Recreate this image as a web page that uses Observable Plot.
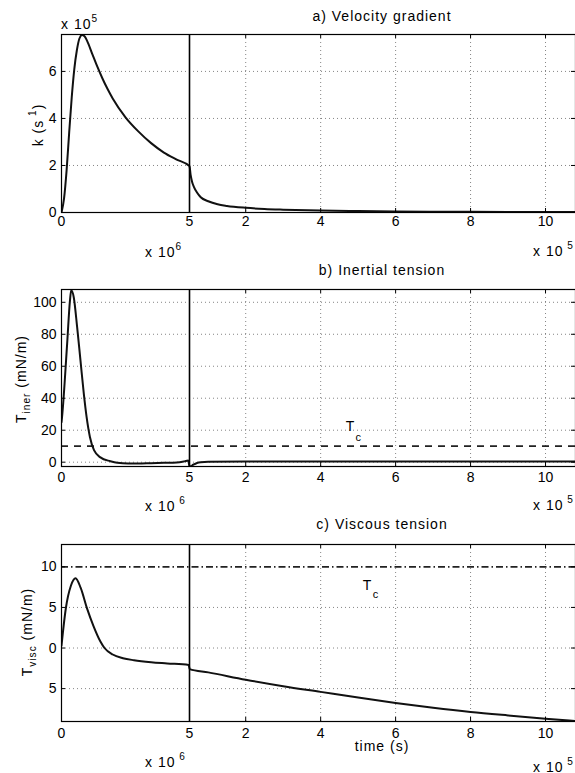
<!DOCTYPE html>
<html>
<head>
<meta charset="utf-8">
<script src="https://cdn.jsdelivr.net/npm/d3@7"></script>
<script src="https://cdn.jsdelivr.net/npm/@observablehq/plot@0.6"></script>
<style>
  body { margin: 0; background: #fff; }
  #chart { position: relative; width: 575px; height: 773px; overflow: hidden; background: #fff;
           font-family: "Liberation Sans", Arial, Helvetica, sans-serif; }
  #chart svg { position: absolute; left: 0; overflow: visible; }
</style>
</head>
<body>
<div id="chart"></div>
<script>
// ---------------- data (time in microseconds) ----------------
// a) velocity gradient k (x 10^5 s^-1)
const timeA = [0, 0.1, 0.2, 0.3, 0.4, 0.5, 0.6, 0.7, 0.8, 0.9, 1.0, 1.2, 1.4, 1.6, 1.8, 2.0, 2.5, 3.0, 3.5, 4.0, 4.5, 5.0,
               5.3, 5.7, 6.2, 7, 8, 10, 12.5, 15, 20, 25, 30, 40, 50, 60, 70, 80, 90, 100, 108];
const kValues = [0, 0.6, 1.8, 3.4, 4.9, 6.1, 6.9, 7.4, 7.55, 7.5, 7.3, 6.75, 6.2, 5.7, 5.25, 4.85, 4.05, 3.45, 2.95, 2.55, 2.25, 1.97,
                 1.6, 1.3, 1.08, 0.85, 0.65, 0.48, 0.35, 0.28, 0.2, 0.15, 0.12, 0.08, 0.06, 0.045, 0.035, 0.03, 0.025, 0.02, 0.018];

// b) inertial tension (mN/m)
const timeB = [0, 0.02, 0.22, 0.33, 0.38, 0.48, 0.61, 0.74, 0.87, 0.98, 1.11, 1.27, 1.52, 1.91, 2.18, 2.6, 3.0, 3.5, 4.0, 4.5, 4.8, 4.95, 5.0,
               5.2, 6, 7, 8, 10, 20, 40, 60, 80, 100, 108];
const inertValues = [25, 28, 74, 101, 107.5, 103, 84.6, 63.8, 43, 28.3, 15.8, 7.5, 3, 0.6, -0.4, -0.8, -0.8, -0.6, -0.4, -0.2, 0.5, 1.0, -2.5,
                     -2.7, -1.6, -0.5, 0, 0.3, 0.4, 0.4, 0.4, 0.4, 0.4, 0.4];

// c) viscous tension (mN/m)
const timeC = [0, 0.17, 0.37, 0.55, 0.75, 1.0, 1.25, 1.52, 1.68, 2.0, 2.4, 2.83, 3.5, 4.13, 4.97,
               5.05, 10, 20, 30, 40, 50, 60, 70, 80, 90, 100, 108];
const viscValues = [0.3, 4.9, 7.7, 8.6, 7.4, 4.85, 2.7, 0.8, 0.0, -0.8, -1.25, -1.5, -1.75, -1.9, -2.1,
                    -2.6, -3.0, -3.9, -4.7, -5.4, -6.1, -6.76, -7.35, -7.87, -8.3, -8.7, -9.0];

// critical tension
const tcValue = 10;

// axes
const xBreak = 5;                       // end of the 0..5 x10^-6 s segment
const xEnd = 108;                       // visible end of the x10^-5 s segment
const xTicks = [0, 5, 20, 40, 60, 80, 100];
const xTickLabels = ["0", "5", "2", "4", "6", "8", "10"];
const xGrid = [5, 20, 40, 60, 80, 100];
const yTicksA = [0, 2, 4, 6];
const yTickLabelsA = ["0", "2", "4", "6"];
const yTicksB = [0, 20, 40, 60, 80, 100];
const yTickLabelsB = ["0", "20", "40", "60", "80", "100"];
const yTicksC = [-5, 0, 5, 10];
const yTickLabelsC = ["5", "0", "5", "10"];

// ---------------- drawing ----------------
const FONT = '"Liberation Sans", Arial, Helvetica, sans-serif';
const W = 575, ML = 61, BREAK_PX = 189;
const innerW = W - ML;
// the second segment is compressed relative to the first one
const ratio = ((W - BREAK_PX) / (xEnd - xBreak)) / ((BREAK_PX - ML) / xBreak);
const warp = t => (t <= xBreak ? t : xBreak + (t - xBreak) * ratio);
const rightCenter = (BREAK_PX + W) / 2;
const container = document.getElementById("chart");

function rich(sel, x, y, parts, {anchor = "start", rotate = 0, size = 14, spacing = 1} = {}) {
  const t = sel.append("text")
    .attr("transform", `translate(${x},${y}) rotate(${rotate})`)
    .attr("text-anchor", anchor)
    .attr("font-family", FONT)
    .attr("font-size", size)
    .attr("letter-spacing", spacing)
    .attr("fill", "black");
  let shift = 0;
  for (const [s, k] of parts) {
    const target = k === "sup" ? -7 : k === "sub" ? 4 : 0;
    const ts = t.append("tspan").attr("dy", target - shift).text(s);
    if (k) ts.attr("font-size", size * 0.72);
    shift = target;
  }
  return t;
}

function panel(cfg) {
  const {top, height, marginTop, marginBottom, yDomain, yTicks, yTickLabels, time, values, threshold, thresholdDash, gridYTicks, tc} = cfg;
  const innerH = height - marginTop - marginBottom;
  const data = time.map((t, i) => ({t, v: values[i]}));
  const tick = 4;
  const marks = [
    Plot.ruleY(gridYTicks, {stroke: "#666", strokeWidth: 0.8, strokeDasharray: "1,3"}),
    Plot.ruleX(xGrid, {stroke: "#666", strokeWidth: 0.8, strokeDasharray: "1,3"}),
  ];
  if (threshold != null) {
    marks.push(Plot.ruleY([threshold], {stroke: "#222", strokeWidth: 1.7, strokeDasharray: thresholdDash}));
  }
  if (tc) {
    marks.push(
      Plot.text([tc], {x: d => d.x, y: d => d.y, text: () => "T", textAnchor: "start", fontSize: 14, fill: "black"}),
      Plot.text([tc], {x: d => d.xs, y: d => d.ys, text: () => "c", textAnchor: "start", fontSize: 11, fill: "black"})
    );
  }
  marks.push(
    Plot.line(data, {x: "t", y: "v", stroke: "#111", strokeWidth: 2, curve: "monotone-x", clip: true}),
    // inside tick marks
    Plot.ruleX(xTicks, {stroke: "black", insetTop: innerH - tick}),
    Plot.ruleX(xTicks, {stroke: "black", insetBottom: innerH - tick}),
    Plot.ruleY(yTicks, {stroke: "black", insetRight: innerW - tick}),
    Plot.ruleY(yTicks, {stroke: "black", insetLeft: innerW - tick}),
    Plot.frame({stroke: "black", strokeWidth: 1.2}),
    Plot.ruleX([xBreak], {stroke: "black", strokeWidth: 1.6}),
    Plot.text(xTicks, {x: d => d, text: (d, i) => xTickLabels[i], frameAnchor: "bottom", lineAnchor: "top", dy: cfg.xLabelDy, fontSize: 14, fill: "black"}),
    Plot.text(yTicks, {y: d => d, text: (d, i) => yTickLabels[i], frameAnchor: "left", textAnchor: "end", dx: -5, fontSize: 14, fill: "black"})
  );
  const svg = Plot.plot({
    width: W, height,
    marginLeft: ML, marginRight: 0, marginTop, marginBottom,
    style: {fontFamily: FONT, fontSize: "14px", background: "transparent", overflow: "visible"},
    x: {domain: [0, warp(xEnd)], transform: warp, axis: null},
    y: {domain: yDomain, axis: null},
    marks
  });
  svg.style.top = top + "px";
  container.appendChild(svg);
  return {svg, sel: d3.select(svg)};
}

// Panel a
const pa = panel({
  top: 0, height: 258, marginTop: 34, marginBottom: 46,
  yDomain: [0, 7.57], yTicks: yTicksA, yTickLabels: yTickLabelsA, gridYTicks: yTicksA,
  time: timeA, values: kValues, xLabelDy: 4
});
rich(pa.sel, rightCenter, 21, [["a) Velocity gradient", null]], {anchor: "middle"});
rich(pa.sel, 61, 29, [["x 10", null], ["5", "sup"]]);
rich(pa.sel, 145, 257, [["x 10", null], ["6", "sup"]]);
rich(pa.sel, 533, 256, [["x 10", null], [" 5", "sup"]]);
rich(pa.sel, 43, 125, [["k (s", null], [" 1", "sup"], [")", null]], {anchor: "middle", rotate: -90});

// Panel b
const pb = panel({
  top: 258, height: 257, marginTop: 31, marginBottom: 49,
  yDomain: [-2.7, 108], yTicks: yTicksB, yTickLabels: yTickLabelsB, gridYTicks: yTicksB,
  time: timeB, values: inertValues, threshold: tcValue, thresholdDash: "7,6", xLabelDy: 6,
  tc: {x: 46.7, y: 22.2, xs: 49.3, ys: 15.3}
});
rich(pb.sel, rightCenter, 17, [["b) Inertial tension", null]], {anchor: "middle"});
rich(pb.sel, 145, 253, [["x 10", null], [" 6", "sup"]]);
rich(pb.sel, 533, 252, [["x 10", null], [" 5", "sup"]]);
rich(pb.sel, 26, 121, [["T", null], ["iner", "sub"], [" (mN/m)", null]], {anchor: "middle", rotate: -90});

// Panel c
const pc = panel({
  top: 515, height: 258, marginTop: 29, marginBottom: 52,
  yDomain: [-9.05, 12.75], yTicks: yTicksC, yTickLabels: yTickLabelsC, gridYTicks: [-5, 0, 5],
  time: timeC, values: viscValues, threshold: tcValue, thresholdDash: "7,3,1.5,3", xLabelDy: 7,
  tc: {x: 51.2, y: 7.7, xs: 53.9, ys: 6.6}
});
rich(pc.sel, rightCenter, 14, [["c) Viscous tension", null]], {anchor: "middle"});
rich(pc.sel, rightCenter, 236, [["time (s)", null]], {anchor: "middle"});
rich(pc.sel, 145, 252, [["x 10", null], [" 6", "sup"]]);
rich(pc.sel, 533, 257, [["x 10", null], [" 5", "sup"]]);
rich(pc.sel, 32, 117, [["T", null], ["visc", "sub"], [" (mN/m)", null]], {anchor: "middle", rotate: -90});
</script>
</body>
</html>
